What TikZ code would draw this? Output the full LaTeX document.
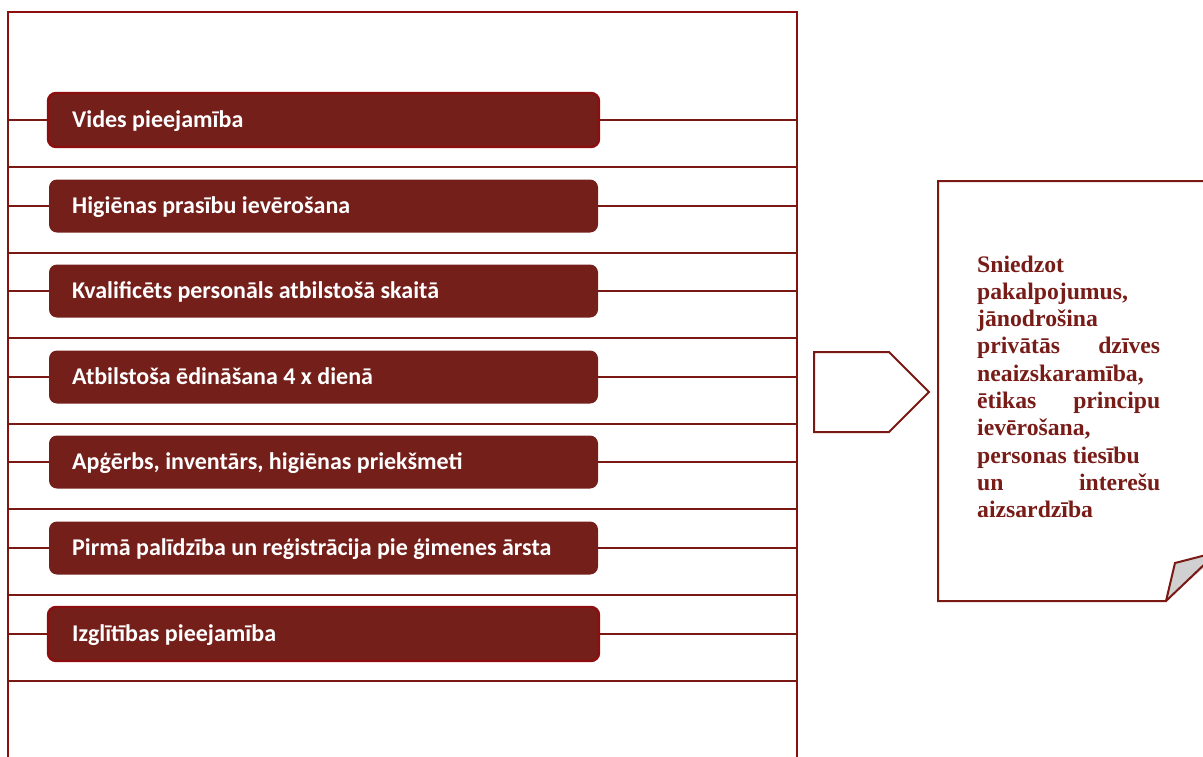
\documentclass[tikz,border=0pt]{standalone}
\usepackage{fontspec}
\setmainfont{Liberation Serif}
\newfontfamily\itemfont{Carlito}
\definecolor{boxfill}{RGB}{116,31,26}
\definecolor{linecol}{RGB}{122,24,20}
\definecolor{framecol}{RGB}{140,14,14}
\definecolor{notetext}{RGB}{120,28,24}
\definecolor{foldgrey}{RGB}{208,208,208}
\tikzset{
  itembox/.style={draw=none, fill=boxfill, rounded corners=8pt, minimum width=549pt, minimum height=53pt, inner sep=0pt},
  itemboxb/.style={itembox, draw=framecol, line width=2.4pt, minimum width=551pt, minimum height=54pt},
  itemtext/.style={anchor=base west, inner sep=0pt, text=white, font=\itemfont\bfseries\fontsize{24}{28}\selectfont},
  band/.style={draw=linecol, line width=2.4pt},
  frame/.style={draw=framecol, line width=2.4pt},
  conn/.style={draw=linecol, line width=2.4pt},
  arrowshape/.style={draw=linecol, line width=2pt},
}
\begin{document}
\begin{tikzpicture}[x=1pt,y=-1pt]
\useasboundingbox (0,0) rectangle (1203,756);
\clip (0,0) rectangle (1203,756);
% outer frame
\draw[frame] (8,770) -- (8,12) -- (797,12) -- (797,770);
% bands and items
\foreach \c/\t/\s [count=\i] in {
  120/{Vides pieejamība}/itemboxb,
  206/{Higiēnas prasību ievērošana}/itembox,
  291/{Kvalificēts personāls atbilstošā skaitā}/itembox,
  377/{Atbilstoša ēdināšana 4 x dienā}/itembox,
  462/{Apģērbs, inventārs, higiēnas priekšmeti}/itembox,
  548/{Pirmā palīdzība un reģistrācija pie ģimenes ārsta}/itembox,
  634/{Izglītības pieejamība}/itemboxb}{
  \coordinate (l\i) at (8,\c);
  \coordinate (r\i) at (797,\c);
  \draw[band] (8,\c) -- (8,\c+47) -- (797,\c+47) -- (797,\c);
  \node[\s] (b\i) at (323.5,\c) {};
  \node[itemtext] (t\i) at (72,\c+7.6) {\t};
  \draw[conn] (l\i) -- (b\i.west);
  \draw[conn] (b\i.east) -- (r\i);
}
% arrow pentagon
\draw[arrowshape] (814,352) coordinate (pa) -- (889,352) -- (929,392) coordinate (tip) -- (889,432) -- (814,432) -- cycle;
% note
\fill[foldgrey] (1166,601) -- (1175,563) -- (1210,554) -- (1210,562) -- cycle;
\draw[arrowshape] (1210,181) -- (938,181) coordinate (ntl) -- (938,601) -- (1166,601) -- (1175,563) -- (1210,554);
\draw[arrowshape] (1166,601) -- (1210,559);
\node[anchor=base west, inner sep=0pt, text=notetext, font=\bfseries\fontsize{23.7}{27.3}\selectfont] (note) at (977,272) {\parbox[t]{183pt}{%
\hbox to 183pt{Sniedzot\hfil}
\hbox to 183pt{pakalpojumus,\hfil}
\hbox to 183pt{jānodrošina\hfil}
\hbox to 183pt{privātās\hfill dzīves}
\hbox to 183pt{neaizskaramība,\hfil}
\hbox to 183pt{ētikas\hfill principu}
\hbox to 183pt{ievērošana,\hfil}
\hbox to 183pt{personas tiesību\hfil}
\hbox to 183pt{un\hfill interešu}
\hbox to 183pt{aizsardzība\hfil}}};
\end{tikzpicture}
\end{document}
